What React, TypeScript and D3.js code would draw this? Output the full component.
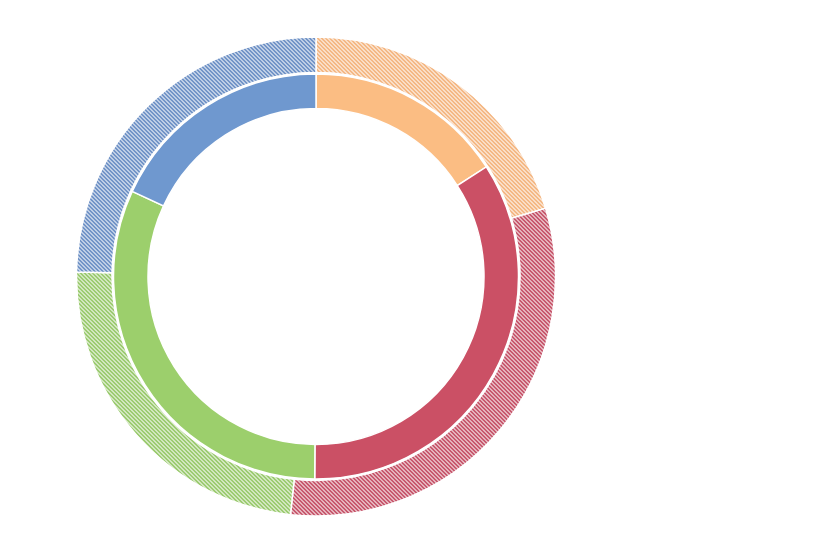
import React from "react";
import * as d3 from "d3";

const categories = ["A", "B", "C", "D"];
const innerValues = [15.9, 34.2, 31.8, 18.1];
const outerValues = [20.4, 31.3, 23.6, 24.7];
const solidColors = ["#fbbd83", "#cb5065", "#9ccf6c", "#6f98cf"];
const hatchColors = ["#f2ad72", "#bf4058", "#8dc35c", "#5d84bf"];

const W = 837;
const H = 549;
const CX = 316;
const CY = 276.5;

export default function App() {
  const pie = d3.pie<number>().sort(null).value((d) => d);
  const innerArcs = pie(innerValues);
  const outerArcs = pie(outerValues);
  const innerArc = d3.arc<d3.PieArcDatum<number>>().innerRadius(168).outerRadius(202.5);
  const outerArc = d3.arc<d3.PieArcDatum<number>>().innerRadius(204).outerRadius(239.5);

  return (
    <svg
      width={W}
      height={H}
      style={{ position: "absolute", left: 0, top: 0, display: "block" }}
    >
      <defs>
        {categories.map((c, i) => (
          <pattern
            key={c}
            id={`hatch-${i}`}
            patternUnits="userSpaceOnUse"
            width={4}
            height={4}
          >
            <rect width={4} height={4} fill="#ffffff" />
            <path
              d="M-1,-1 L5,5 M-1,3 L1,5 M3,-1 L5,1"
              stroke={hatchColors[i]}
              strokeWidth={1.8}
            />
          </pattern>
        ))}
      </defs>
      <rect width={W} height={H} fill="#ffffff" />
      <g transform={`translate(${CX},${CY})`}>
        {outerArcs.map((a, i) => (
          <path
            key={`o-${categories[i]}`}
            d={outerArc(a) || ""}
            fill={`url(#hatch-${i})`}
            stroke="#ffffff"
            strokeWidth={1.5}
          />
        ))}
        {innerArcs.map((a, i) => (
          <path
            key={`i-${categories[i]}`}
            d={innerArc(a) || ""}
            fill={solidColors[i]}
            stroke="#ffffff"
            strokeWidth={1.5}
          />
        ))}
      </g>
    </svg>
  );
}
